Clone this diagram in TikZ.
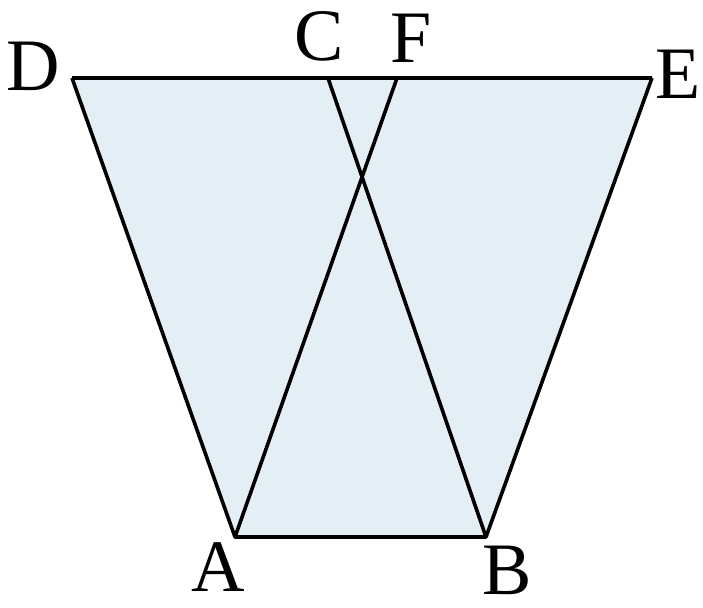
\documentclass[tikz,border=0pt]{standalone}
\usepackage{fontspec}
\setmainfont{Liberation Serif}
\usetikzlibrary{calc}
\definecolor{paneblue}{RGB}{228,238,245}
\tikzset{
  edge/.style={draw=black,line width=1.8pt,line join=round},
  pt/.style={font=\fontsize{37}{38}\selectfont,inner sep=0pt},
}

\begin{document}
\begin{tikzpicture}[x=0.5pt,y=-0.5pt]
 \useasboundingbox (0,0) rectangle (703,608);
 % vertices
 \coordinate (A) at (235,537);
 \coordinate (B) at (486,537);
 \coordinate (D) at (72,78);
 \coordinate (C) at (328,78);
 \coordinate (F) at (397,78);
 \coordinate (E) at (652,78);
 \fill[paneblue] (D)--(E)--(B)--(A)--cycle;
 \draw[edge] (D)--(E) (D)--(A)--(B)--(E) (A)--(F) (B)--(C);
 % labels
 \node[pt] (lD) at (33,66) {D};
 \node[pt] (lC) at (319,36) {C};
 \node[pt] (lF) at (411,38) {F};
 \node[pt] (lE) at (678,74) {E};
 \node[pt] (lA) at (218,567) {A};
 \node[pt] (lB) at (507,570) {B};
\end{tikzpicture}
\end{document}
